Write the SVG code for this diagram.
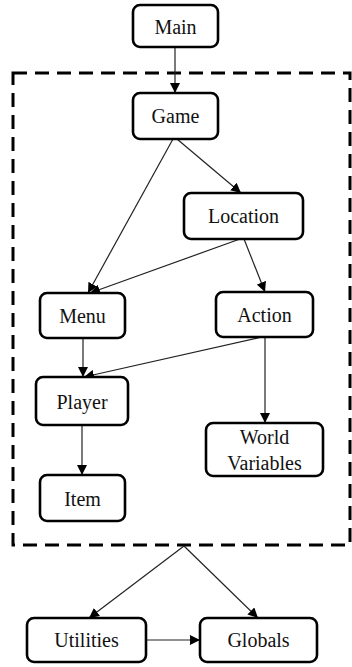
<svg xmlns="http://www.w3.org/2000/svg" width="352" height="667" viewBox="0 0 352 667">
  <style>
    .box { fill: #fff; stroke: #000; stroke-width: 2.6; }
    .lbl { font-size: 20px; fill: #111; text-anchor: middle; dominant-baseline: central; }
    .edge { stroke: #222; stroke-width: 1.2; fill: none; marker-end: url(#arrow); }
    .group { fill: none; stroke: #000; stroke-width: 3; stroke-dasharray: 14 8; }
  </style>
  <defs>
    <marker id="arrow" viewBox="0 0 10 10" refX="10" refY="5" markerWidth="10" markerHeight="10" markerUnits="userSpaceOnUse" orient="auto">
      <path d="M0,0 L10,5 L0,10 z" fill="#000"/>
    </marker>
  </defs>

  <rect width="352" height="667" fill="#fff"/>

  <!-- package boundary -->
  <rect class="group" x="13" y="73" width="337" height="472"/>

  <g id="connectors">
    <line class="edge" x1="175" y1="47" x2="175" y2="93"/>
    <line class="edge" x1="173" y1="139" x2="88" y2="293"/>
    <line class="edge" x1="177" y1="139" x2="241" y2="193"/>
    <line class="edge" x1="240" y1="239" x2="90" y2="293"/>
    <line class="edge" x1="244" y1="239" x2="265" y2="292"/>
    <line class="edge" x1="262" y1="337" x2="84" y2="377"/>
    <line class="edge" x1="83" y1="338" x2="83" y2="377"/>
    <line class="edge" x1="265" y1="337" x2="265" y2="423"/>
    <line class="edge" x1="82" y1="425" x2="82" y2="475"/>
    <line class="edge" x1="184" y1="546" x2="89" y2="618"/>
    <line class="edge" x1="184" y1="546" x2="258" y2="618"/>
    <line class="edge" x1="146" y1="640" x2="200" y2="640"/>
  </g>

  <g font-family="'Liberation Serif', 'DejaVu Serif', serif">
    <g id="main"><rect class="box" x="133" y="5" width="85" height="42" rx="7"/><text class="lbl" x="175.5" y="27">Main</text></g>
    <g id="game"><rect class="box" x="133" y="93" width="85" height="46" rx="7"/><text class="lbl" x="175.5" y="116">Game</text></g>
    <g id="location"><rect class="box" x="184" y="193" width="119" height="46" rx="7"/><text class="lbl" x="243.5" y="216">Location</text></g>
    <g id="menu"><rect class="box" x="40" y="293" width="85" height="45" rx="7"/><text class="lbl" x="82.5" y="316">Menu</text></g>
    <g id="action"><rect class="box" x="216" y="292" width="97" height="45" rx="7"/><text class="lbl" x="264.5" y="315">Action</text></g>
    <g id="player"><rect class="box" x="36" y="377" width="92" height="48" rx="7"/><text class="lbl" x="82" y="402">Player</text></g>
    <g id="world-variables"><rect class="box" x="206" y="423" width="117" height="53" rx="7"/><text class="lbl" x="264.5" y="437">World</text><text class="lbl" x="264.5" y="463">Variables</text></g>
    <g id="item"><rect class="box" x="40" y="475" width="85" height="46" rx="7"/><text class="lbl" x="82.5" y="499">Item</text></g>
    <g id="utilities"><rect class="box" x="27" y="618" width="119" height="44" rx="7"/><text class="lbl" x="86.5" y="640">Utilities</text></g>
    <g id="globals"><rect class="box" x="200" y="618" width="117" height="44" rx="7"/><text class="lbl" x="258.5" y="640">Globals</text></g>
  </g>
</svg>
